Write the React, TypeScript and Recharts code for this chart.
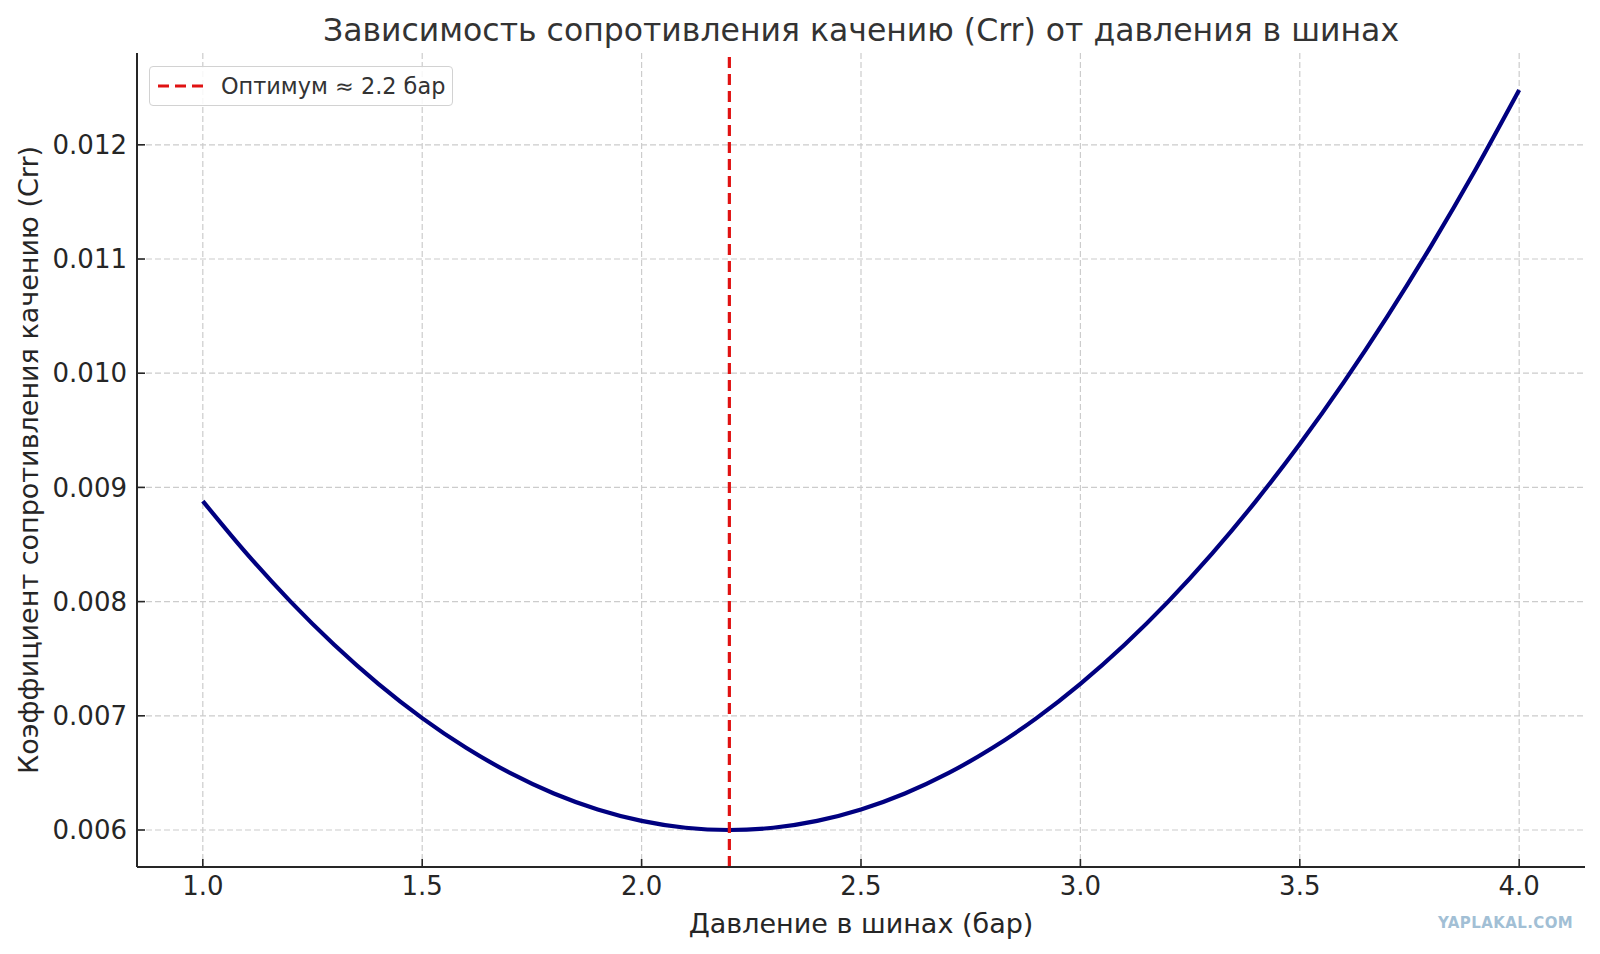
import React from "react";
import {
  LineChart, Line, XAxis, YAxis, CartesianGrid, ReferenceLine, Legend,
} from "recharts";

// tyre pressure, bar
const pressure = [
  1.0, 1.1, 1.2, 1.3, 1.4, 1.5, 1.6, 1.7, 1.8, 1.9, 2.0,
  2.1, 2.2, 2.3, 2.4, 2.5, 2.6, 2.7, 2.8, 2.9, 3.0,
  3.1, 3.2, 3.3, 3.4, 3.5, 3.6, 3.7, 3.8, 3.9, 4.0,
];

// rolling resistance coefficient
const crr = [
  0.00888, 0.00842, 0.008, 0.00762, 0.00728, 0.00698, 0.00672, 0.0065, 0.00632, 0.00618, 0.00608,
  0.00602, 0.006, 0.00602, 0.00608, 0.00618, 0.00632, 0.0065, 0.00672, 0.00698, 0.00728,
  0.00762, 0.008, 0.00842, 0.00888, 0.00938, 0.00992, 0.0105, 0.01112, 0.01178, 0.01248,
];

const optimum = 2.2;

const xTicks = [1.0, 1.5, 2.0, 2.5, 3.0, 3.5, 4.0];
const yTicks = [0.006, 0.007, 0.008, 0.009, 0.01, 0.011, 0.012];

const TITLE = "Зависимость сопротивления качению (Crr) от давления в шинах";
const X_LABEL = "Давление в шинах (бар)";
const Y_LABEL = "Коэффициент сопротивления качению (Crr)";
const LEGEND_LABEL = "Оптимум ≈ 2.2 бар";

const FONT = "'DejaVu Sans', Verdana, sans-serif";
const INK = "#262626";
const NAVY = "#000080";
const RED = "#e01212";

const data = pressure.map((p, i) => ({ p, crr: crr[i] }));

function LegendBox() {
  return (
    <div
      style={{
        width: 304, height: 40, boxSizing: "border-box",
        border: "1px solid #d2d2d2", borderRadius: 4,
        background: "rgba(255,255,255,0.85)",
        display: "flex", alignItems: "center",
        fontFamily: FONT, fontSize: 22.4, color: "#333",
      }}
    >
      <svg width={71} height={38} style={{ flex: "none" }}>
        <line x1={8} x2={53} y1={19} y2={19} stroke={RED} strokeWidth={3.2} strokeDasharray="11 6" />
      </svg>
      <span style={{ whiteSpace: "nowrap" }}>{LEGEND_LABEL}</span>
    </div>
  );
}

export default function App() {
  return (
    <div style={{ position: "absolute", left: 0, top: 0, width: 1600, height: 954, background: "#fff" }}>
      {/* title */}
      <div
        style={{
          position: "absolute", left: 0, top: 15, width: 1722, textAlign: "center",
          fontFamily: FONT, fontSize: 31.5, lineHeight: "31px", color: "#333", whiteSpace: "nowrap",
        }}
      >
        {TITLE}
      </div>

      <LineChart
        width={1600}
        height={954}
        data={data}
        margin={{ top: 53, right: 15, bottom: 0, left: 0 }}
        style={{ fontFamily: FONT }}
      >
        <CartesianGrid
          stroke="#cccccc"
          strokeDasharray="6 3"
          strokeWidth={1.2}
          horizontalValues={yTicks}
          verticalValues={xTicks}
        />
        <XAxis
          dataKey="p"
          type="number"
          domain={[0.85, 4.15]}
          ticks={xTicks}
          allowDataOverflow
          height={87}
          tickFormatter={(v: number) => v.toFixed(1)}
          tick={{ fontSize: 26, fill: INK }}
          tickSize={-8}
          tickMargin={18}
          tickLine={{ stroke: INK, strokeWidth: 1.6 }}
          axisLine={{ stroke: INK, strokeWidth: 2 }}
          label={{
            content: (props: any) => {
              const vb = props.viewBox || {};
              return (
                <text x={vb.x + vb.width / 2} y={933} textAnchor="middle" fontSize={27} fill={INK} fontFamily={FONT}>
                  {X_LABEL}
                </text>
              );
            },
          }}
        />
        <YAxis
          type="number"
          domain={[0.005676, 0.012804]}
          ticks={yTicks}
          allowDataOverflow
          width={137}
          tickFormatter={(v: number) => v.toFixed(3)}
          tick={{ fontSize: 26, fill: INK }}
          tickSize={-8}
          tickMargin={18}
          tickLine={{ stroke: INK, strokeWidth: 1.6 }}
          axisLine={{ stroke: INK, strokeWidth: 2 }}
          label={{
            content: (props: any) => {
              const vb = props.viewBox || {};
              const cy = vb.y + vb.height / 2;
              return (
                <text
                  x={38} y={cy} textAnchor="middle" fontSize={27} fill={INK} fontFamily={FONT}
                  transform={`rotate(-90, 38, ${cy})`}
                >
                  {Y_LABEL}
                </text>
              );
            },
          }}
        />
        <Legend
          layout="horizontal"
          verticalAlign="middle"
          align="center"
          wrapperStyle={{ left: 149, top: 66, width: 304, height: 40 }}
          content={() => <LegendBox />}
        />
        <Line
          type="monotone"
          dataKey="crr"
          stroke={NAVY}
          strokeWidth={4.2}
          dot={false}
          activeDot={false}
          isAnimationActive={false}
          legendType="none"
        />
        <ReferenceLine x={optimum} stroke={RED} strokeWidth={3.2} strokeDasharray="11 6" />
      </LineChart>

      {/* watermark */}
      <div
        style={{
          position: "absolute", left: 1438, top: 914, fontFamily: FONT, fontWeight: "bold",
          fontSize: 15, lineHeight: "18px", letterSpacing: 0.4, color: "#a2bfd5", whiteSpace: "nowrap",
        }}
      >
        YAPLAKAL.COM
      </div>
    </div>
  );
}
